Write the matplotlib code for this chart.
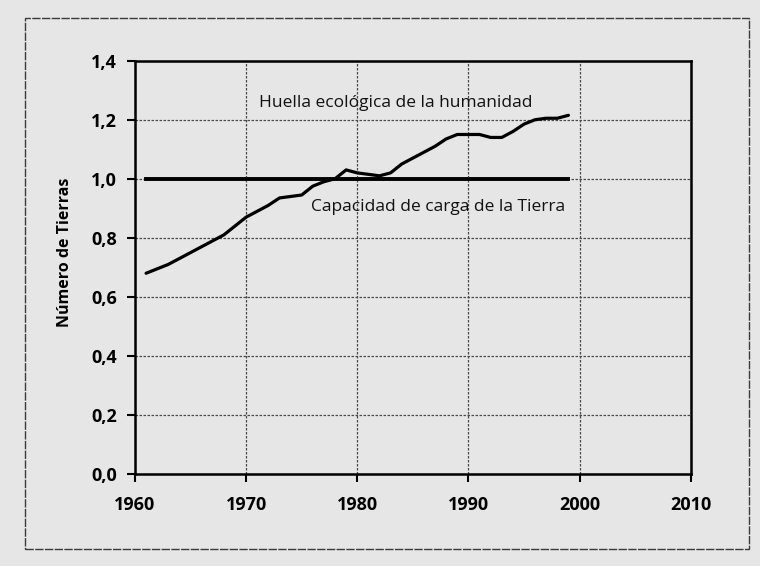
import matplotlib.pyplot as plt
from matplotlib.patches import Rectangle

years = list(range(1961, 2000))
huella = [0.68, 0.695, 0.71, 0.73, 0.75, 0.77, 0.79, 0.81, 0.84, 0.87,
          0.89, 0.91, 0.935, 0.94, 0.945, 0.975, 0.99, 1.00, 1.03, 1.02,
          1.015, 1.01, 1.02, 1.05, 1.07, 1.09, 1.11, 1.135, 1.15, 1.15,
          1.15, 1.14, 1.14, 1.16, 1.185, 1.20, 1.205, 1.205, 1.215]
capacidad_years = [1961, 1999]
capacidad = [1.0, 1.0]

xticks = [1960, 1970, 1980, 1990, 2000, 2010]
yticks = [0.0, 0.2, 0.4, 0.6, 0.8, 1.0, 1.2, 1.4]
ylabels = ["0,0", "0,2", "0,4", "0,6", "0,8", "1,0", "1,2", "1,4"]

plt.rcParams['font.family'] = ['Open Sans', 'DejaVu Sans']
bg = '#e6e6e6'

fig = plt.figure(figsize=(7.6, 5.66), dpi=100, facecolor=bg)
ax = fig.add_axes([0.1776, 0.1625, 0.9088 - 0.1776, 0.8928 - 0.1625])
ax.set_facecolor(bg)

# outer frame of the scanned figure
fig.patches.append(Rectangle((25 / 760, 1 - 549 / 566), 724 / 760, 531 / 566,
                             transform=fig.transFigure, fill=False,
                             edgecolor='#3a3a3a', lw=1.0, linestyle=(0, (6, 1))))

ax.plot(years, huella, color='black', lw=2.3, solid_capstyle='round')
ax.plot(capacidad_years, capacidad, color='black', lw=2.8)

ax.set_xlim(1960, 2010)
ax.set_ylim(0, 1.4)
ax.set_xticks(xticks)
ax.set_xticklabels([str(x) for x in xticks], fontweight='bold', fontsize=13)
ax.set_yticks(yticks)
ax.set_yticklabels(ylabels, fontweight='bold', fontsize=13)
ax.tick_params(axis='x', direction='out', length=6, width=1.5, pad=10, color='black')
ax.tick_params(axis='y', direction='out', length=6, width=1.5, pad=7, color='black')
ax.grid(True, color='#4a4a4a', lw=0.9, linestyle=(0, (2, 1.2)))

for s in ax.spines.values():
    s.set_linewidth(1.8)
    s.set_color('black')

ax.set_ylabel("Número de Tierras", fontsize=11.5, fontweight='bold')
ax.yaxis.set_label_coords(-0.112, 0.537)

ax.text(1971.2, 1.255, "Huella ecológica de la humanidad", fontsize=12.5,
        va='center', ha='left', color='#111111')
ax.text(1975.8, 0.906, "Capacidad de carga de la Tierra", fontsize=12.5,
        va='center', ha='left', color='#111111')

plt.savefig('out.png', dpi=100, facecolor=bg)
